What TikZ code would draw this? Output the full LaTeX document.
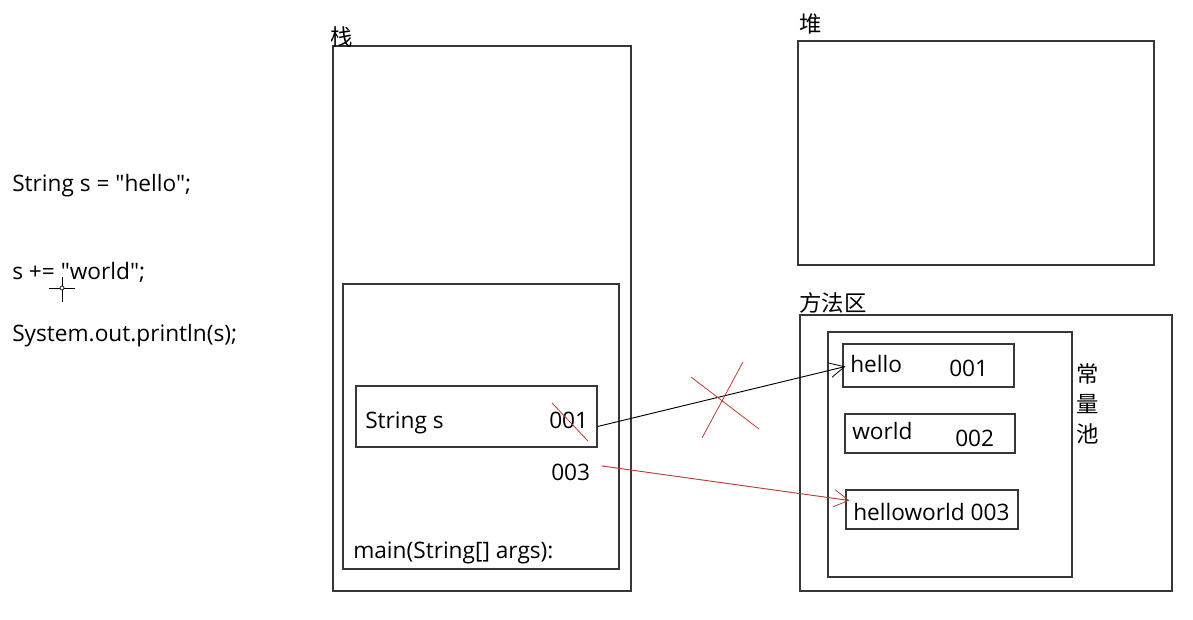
\documentclass[tikz,border=0pt]{standalone}
\usepackage{fontspec}
\setmainfont{Open Sans}[Ligatures=TeXOff]
\newfontfamily\cjk{Noto Sans CJK SC}
\usetikzlibrary{arrows.meta,fit,calc}
\definecolor{redline}{RGB}{190,60,50}
\definecolor{boxgray}{RGB}{55,55,55}
\begin{document}
\begin{tikzpicture}[x=0.75pt,y=-0.75pt,
  box/.style={draw=boxgray,line width=0.9pt,inner sep=0pt},
  txt/.style={inner sep=0pt,anchor=base west,font=\fontsize{17}{20}\selectfont},
  cjkt/.style={inner sep=0pt,anchor=base west,font=\cjk\fontsize{16.8}{20}\selectfont},
  blkarrow/.style={draw=black,line width=0.7pt,-{Straight Barb[length=11pt,width=11pt,line width=0.6pt]}},
  redarrow/.style={draw=redline,line width=0.7pt,-{Straight Barb[length=11pt,width=13pt,line width=0.6pt]}},
  redmark/.style={draw=redline,line width=0.6pt}]
\useasboundingbox (0,0) rectangle (1193,620);

% code on the left
\node[txt] (c1) at (12,192) {String s = "hello";};
\node[txt] (c2) at (12,280) {s += "world";};
\node[txt] (c3) at (12,342) {System.out.println(s);};
% cursor artifact
\draw[line width=0.6pt] (62,277) -- (62,302) (49,288) -- (75,288);
\draw[line width=0.5pt,fill=white] (62,288) circle[radius=2];

% stack
\node[box,fit={(333,46) (631,591)}] (stack) {};
\node[cjkt] (stacklbl) at (330,46) {栈};
\node[box,fit={(343,284) (619,569)}] (frame) {};
\node[box,fit={(356,386) (597,447)}] (strbox) {};
\node[txt] (strs) at (365,428) {String s};
\node[txt] (v001) at (549,428) {001};
\node[txt] (v003) at (551,480) {003};
\node[txt] (mainlbl) at (353,558) {main(String[] args):};

% heap
\node[box,fit={(798,41) (1154,265)}] (heap) {};
\node[cjkt] (heaplbl) at (799,33) {堆};

% method area
\node[box,fit={(800,315) (1172,591)}] (method) {};
\node[cjkt] (methodlbl) at (799,312) {方法区};
\node[box,fit={(828,332) (1072,577)}] (pool) {};
\node[cjkt,anchor=center] (p1) at (1088,374) {常};
\node[cjkt,anchor=center] (p2) at (1088,404) {量};
\node[cjkt,anchor=center] (p3) at (1088,434) {池};

\node[box,fit={(843,344) (1014,387)}] (hello) {};
\node[txt] (hellot) at (850,373) {hello};
\node[txt] (hellon) at (949,377) {001};
\node[box,fit={(845,414) (1015,453)}] (world) {};
\node[txt] (worldt) at (852,440) {world};
\node[txt] (worldn) at (955,446) {002};
\node[box,fit={(846,490) (1018,529)}] (hw) {};
\node[txt] (hwt) at (853,520) {helloworld 003};

% connectors
\draw[blkarrow] ($(strbox.east)+(0,10)$) -- ($(hello.west)+(3,1)$);
\draw[redarrow] ($(v003.east)+(11,-6)$) -- ($(hw.west)+(4,-9)$);

% red crossings
\coordinate (xmark) at (723,399);
\draw[redmark] ($(xmark)+(-32,-22)$) -- ($(xmark)+(36,30)$);
\draw[redmark] ($(xmark)+(20,-37)$) -- ($(xmark)+(-21,39)$);
\draw[redmark] (552,403) -- (588,441);
\end{tikzpicture}
\end{document}
